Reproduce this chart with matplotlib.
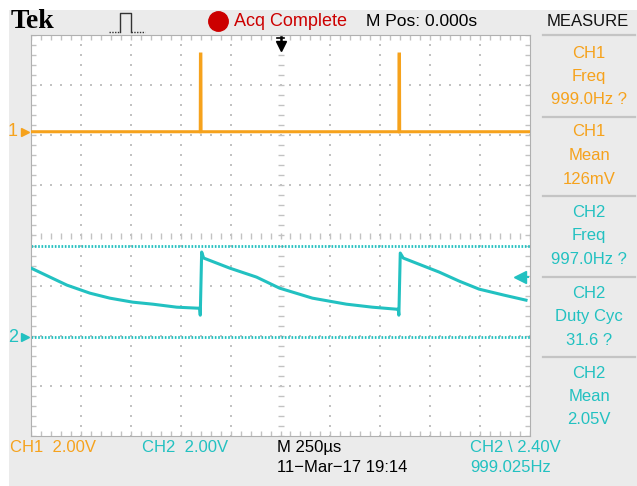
import matplotlib
matplotlib.use('Agg')
import matplotlib.pyplot as plt
import numpy as np
from matplotlib.lines import Line2D
from matplotlib.patches import Rectangle

# ---------------- data ----------------
# CH1 (orange): time in microseconds, volts
ch1_t = [-1250, -402, -401, -399, -398, 593, 594, 596, 597, 1250]
ch1_v = [0.0, 0.0, 3.1, 3.1, 0.0, 0.0, 3.1, 3.1, 0.0, 0.0]

# CH2 (cyan): time in microseconds, volts
ch2_t = [-1250, -1155, -1070, -955, -855, -740, -640, -520, -415, -405, -402,
         -395, -385, -255, -120, -5, 160, 330, 460, 580, 590, 593, 600, 615,
         795, 895, 995, 1120, 1230]
ch2_v = [2.76, 2.40, 2.08, 1.76, 1.56, 1.40, 1.32, 1.20, 1.16, 1.16, 0.88,
         3.40, 3.16, 2.76, 2.40, 1.96, 1.56, 1.32, 1.20, 1.12, 1.12, 0.88, 3.36,
         3.16, 2.60, 2.24, 1.92, 1.68, 1.48]

ch2_cursor_v = [3.64, 0.0]
ch2_trig_v = 2.40

time_per_div = 250.0
volts_per_div = 2.0
ch1_pos = 2.07
ch2_pos = -2.03

top_labels = ["Tek", "Acq Complete", "M Pos: 0.000s", "MEASURE"]
meas_labels = [("CH1", "Freq", "999.0Hz ?"),
               ("CH1", "Mean", "126mV"),
               ("CH2", "Freq", "997.0Hz ?"),
               ("CH2", "Duty Cyc", "31.6 ?"),
               ("CH2", "Mean", "2.05V")]
meas_ch = [1, 1, 2, 2, 2]
bottom_row1 = ["CH1  2.00V", "CH2  2.00V", "M 250\u00b5s", "CH2 \\ 2.40V"]
bottom_row2 = ["11\u2212Mar\u221217 19:14", "999.025Hz"]

# ---------------- style ----------------
ORANGE = '#f6a21c'
CYAN = '#22c1c1'
RED = '#cc0000'
GRAY = '#ebebeb'
GRIDC = '#c2c2c2'
SEP = '#c4c4c4'
FONT = ['Liberation Sans', 'DejaVu Sans']
plt.rcParams['font.family'] = FONT

W, H = 637, 486
fig = plt.figure(figsize=(W / 100, H / 100), dpi=100, facecolor='white')


def fx(x):
    return x / W


def fy(y):
    return 1 - y / H


fig.patches.append(Rectangle((fx(9), 0), 1 - fx(9), fy(10), transform=fig.transFigure,
                             facecolor=GRAY, edgecolor='none', zorder=-5))

ax = fig.add_axes([fx(31), fy(436), 499 / W, 401 / H])
ax.set_zorder(2)
ax.set_facecolor('white')
ax.set_xlim(-5 * time_per_div, 5 * time_per_div)
ax.set_ylim(-4, 4)
ax.set_xticks([])
ax.set_yticks([])
for s in ax.spines.values():
    s.set_color('#b0b0b0')
    s.set_linewidth(0.8)

# ---------------- graticule ----------------
ydots = np.arange(-4, 4.001, 0.2)
xdots = np.arange(-5, 5.001, 0.2)
for k in range(-4, 5):
    if k == 0:
        continue
    ax.plot(np.full(len(ydots), k * time_per_div), ydots, ls='none', marker='s',
            ms=1.5, mew=0, color=GRIDC, zorder=1)
for j in range(-3, 4):
    if j == 0:
        continue
    ax.plot(xdots * time_per_div, np.full(len(xdots), j), ls='none', marker='s',
            ms=1.5, mew=0, color=GRIDC, zorder=1)
# centre cross
ax.plot(xdots * time_per_div, np.zeros(len(xdots)), ls='none', marker='|', ms=5,
        mew=1.0, color=GRIDC, zorder=1)
ax.plot(np.zeros(len(ydots)), ydots, ls='none', marker='_', ms=5, mew=1.0,
        color=GRIDC, zorder=1)
# edge ticks
for yy in (-4, 4):
    ax.plot(xdots * time_per_div, np.full(len(xdots), yy), ls='none', marker='|',
            ms=7, mew=1.0, color=GRIDC, zorder=1)
for xx in (-5, 5):
    ax.plot(np.full(len(ydots), xx * time_per_div), ydots, ls='none', marker='_',
            ms=7, mew=1.0, color=GRIDC, zorder=1)

# ---------------- cursors ----------------
for cv in ch2_cursor_v:
    ax.axhline(cv / volts_per_div + ch2_pos, color=CYAN, lw=2, ls=(0, (0.6, 0.6)), zorder=2)

# ---------------- traces ----------------
ax.plot(ch1_t, np.array(ch1_v) / volts_per_div + ch1_pos, color=ORANGE, lw=2.2,
        solid_joinstyle='miter', zorder=3)
ax.plot(ch2_t, np.array(ch2_v) / volts_per_div + ch2_pos, color=CYAN, lw=2.2, zorder=3)

# ground markers
ax.text(-5.36 * time_per_div, ch1_pos, '1', color=ORANGE, fontsize=13, ha='center',
        va='center', clip_on=False)
ax.plot([-5.12 * time_per_div], [ch1_pos], marker='>', ms=6, color=ORANGE, clip_on=False)
ax.text(-5.36 * time_per_div, ch2_pos, '2', color=CYAN, fontsize=13, ha='center',
        va='center', clip_on=False)
ax.plot([-5.12 * time_per_div], [ch2_pos], marker='>', ms=6, color=CYAN, clip_on=False)

# trigger level marker
ax.plot([4.8 * time_per_div], [ch2_trig_v / volts_per_div + ch2_pos], marker='<', ms=8,
        color=CYAN, zorder=4)
ax.plot([4.8 * time_per_div, 4.95 * time_per_div],
        [ch2_trig_v / volts_per_div + ch2_pos] * 2, color=CYAN, lw=1.5, zorder=4)
# trigger position marker
ax.plot([0, 0], [3.97, 3.84], color='black', lw=1.8, zorder=4)
ax.plot([-18, 18], [3.94, 3.94], color='black', lw=1.2, zorder=4)
ax.plot([0], [3.79], marker='v', ms=7, color='black', zorder=4)

# ---------------- top bar ----------------
fig.text(fx(11), fy(22), top_labels[0], fontsize=20, fontweight='bold',
         family=['Liberation Serif', 'DejaVu Serif'], ha='left', va='center')
# trigger icon
icon = Line2D([fx(120), fx(120), fx(131), fx(131)], [fy(32), fy(13), fy(13), fy(32)],
              transform=fig.transFigure, color='#333333', lw=1.0)
fig.add_artist(icon)
fig.add_artist(Line2D([fx(109), fx(120)], [fy(32), fy(32)], transform=fig.transFigure,
                      color='#333333', lw=1.0, ls=(0, (1, 1))))
fig.add_artist(Line2D([fx(131), fx(145)], [fy(32), fy(32)], transform=fig.transFigure,
                      color='#333333', lw=1.0, ls=(0, (1, 1))))
fig.add_artist(Line2D([fx(218)], [fy(21)], transform=fig.transFigure, marker='o', ms=14,
                      color=RED, ls='none'))
fig.text(fx(234), fy(21), top_labels[1], fontsize=13, color=RED, ha='left', va='center')
fig.text(fx(366), fy(21), top_labels[2], fontsize=12.5, color='black', ha='left', va='center')
fig.text(fx(588), fy(21), top_labels[3], fontsize=12, color='#111111', ha='center', va='center')

# ---------------- measure panel ----------------
for sy in (35, 117, 196, 277, 357):
    fig.add_artist(Line2D([fx(543), fx(635)], [fy(sy), fy(sy)], transform=fig.transFigure,
                          color=SEP, lw=1.6))
block_y = [53, 132, 212, 293, 373]
for (lines, ch, by) in zip(meas_labels, meas_ch, block_y):
    col = ORANGE if ch == 1 else CYAN
    for i, t in enumerate(lines):
        fig.text(fx(589), fy(by + 23.5 * i), t, fontsize=12, color=col,
                 ha='center', va='center')

# ---------------- bottom bar ----------------
fig.text(fx(10), fy(447), bottom_row1[0], fontsize=12, color=ORANGE, ha='left', va='center')
fig.text(fx(142), fy(447), bottom_row1[1], fontsize=12, color=CYAN, ha='left', va='center')
fig.text(fx(277), fy(447), bottom_row1[2], fontsize=12, color='black', ha='left', va='center')
fig.text(fx(470), fy(447), bottom_row1[3], fontsize=12, color=CYAN, ha='left', va='center')
fig.text(fx(277), fy(468), bottom_row2[0], fontsize=12, color='black', ha='left', va='center')
fig.text(fx(470), fy(468), bottom_row2[1], fontsize=12, color=CYAN, ha='left', va='center')

fig.savefig('out.png', dpi=100, facecolor=fig.get_facecolor())
